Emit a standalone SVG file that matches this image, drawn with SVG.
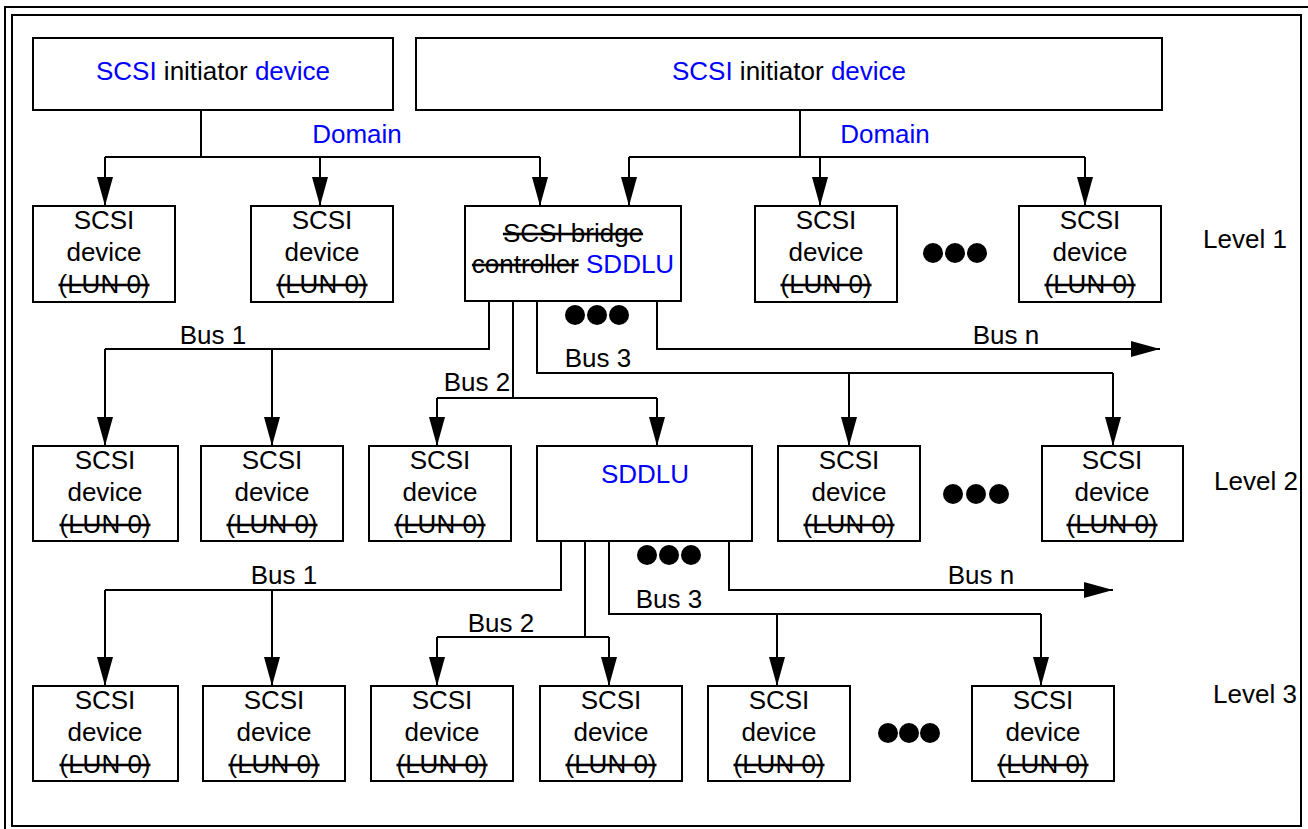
<svg xmlns="http://www.w3.org/2000/svg" width="1308" height="829" viewBox="0 0 1308 829">
<defs>
<marker id="arr" markerUnits="userSpaceOnUse" viewBox="0 0 29 16" refX="29" refY="8" markerWidth="29" markerHeight="16" orient="auto">
<path d="M0,0 L29,8 L0,16 z" fill="#000"/>
</marker>
<style>
.box{fill:#fff;stroke:#000;stroke-width:2}
.frame{fill:none;stroke:#000;stroke-width:2}
.t{font-family:"Liberation Sans",Arial,sans-serif;font-size:26px;fill:#000}
.c{text-anchor:middle}
.b{fill:#0000ff}
.s{text-decoration:line-through}
.ln{fill:none;stroke:#000;stroke-width:2}
.ar{fill:none;stroke:#000;stroke-width:2;marker-end:url(#arr)}
.dot{fill:#000}
</style>
</defs>
<rect x="0" y="0" width="1308" height="829" fill="#fff"/>
<rect class="frame" x="5" y="7" width="1320" height="840"/>
<rect class="frame" x="12" y="15" width="1289" height="811"/>

<g id="connectors">
<!-- Domain 1 -->
<path class="ln" d="M201,110 V157 M105,157 H540"/>
<path class="ar" d="M105,157 V206"/>
<path class="ar" d="M320,157 V206"/>
<path class="ar" d="M540,157 V206"/>
<!-- Domain 2 -->
<path class="ln" d="M800,110 V157 M629,157 H1085"/>
<path class="ar" d="M629,157 V206"/>
<path class="ar" d="M820,157 V206"/>
<path class="ar" d="M1085,157 V206"/>
<!-- Level1 buses -->
<path class="ln" d="M489,301 V349 H105"/>
<path class="ar" d="M105,349 V446"/>
<path class="ar" d="M272,349 V446"/>
<path class="ln" d="M513,301 V398 M437,398 H657"/>
<path class="ar" d="M437,398 V446"/>
<path class="ar" d="M657,398 V446"/>
<path class="ln" d="M537,301 V373 H1113"/>
<path class="ar" d="M849,373 V446"/>
<path class="ar" d="M1113,373 V446"/>
<path class="ar" d="M657,301 V349 H1160"/>
<!-- Level2 buses -->
<path class="ln" d="M561,541 V590 H105"/>
<path class="ar" d="M105,590 V686"/>
<path class="ar" d="M272,590 V686"/>
<path class="ln" d="M585,541 V637 M437,637 H609"/>
<path class="ar" d="M437,637 V686"/>
<path class="ar" d="M609,637 V686"/>
<path class="ln" d="M609,541 V614 H1041"/>
<path class="ar" d="M777,614 V686"/>
<path class="ar" d="M1041,614 V686"/>
<path class="ar" d="M729,541 V590 H1113"/>
</g>

<g id="initiator1"><rect class="box" x="33" y="38" width="360" height="72"/>
<text class="t c" x="213" y="80"><tspan class="b">SCSI</tspan> initiator <tspan class="b">device</tspan></text></g>
<g id="initiator2"><rect class="box" x="416" y="38" width="746" height="72"/>
<text class="t c" x="789" y="80"><tspan class="b">SCSI</tspan> initiator <tspan class="b">device</tspan></text></g>
<text class="t c b" x="357" y="143">Domain</text>
<text class="t c b" x="885" y="143">Domain</text>

<!-- Level 1 -->
<g id="l1d1"><rect class="box" x="33" y="206" width="142" height="96"/>
<text class="t c" x="104" y="229">SCSI</text><text class="t c" x="104" y="261">device</text><text class="t c s" x="104" y="293">(LUN 0)</text></g>
<g id="l1d2"><rect class="box" x="251" y="206" width="142" height="96"/>
<text class="t c" x="322" y="229">SCSI</text><text class="t c" x="322" y="261">device</text><text class="t c s" x="322" y="293">(LUN 0)</text></g>
<g id="l1bridge"><rect class="box" x="465" y="206" width="216" height="95"/>
<text class="t c s" x="573" y="242">SCSI bridge</text>
<text class="t c" x="573" y="273"><tspan class="s">controller</tspan> <tspan class="b">SDDLU</tspan></text></g>
<g id="l1d4"><rect class="box" x="755" y="206" width="142" height="96"/>
<text class="t c" x="826" y="229">SCSI</text><text class="t c" x="826" y="261">device</text><text class="t c s" x="826" y="293">(LUN 0)</text></g>
<g id="l1d5"><rect class="box" x="1019" y="206" width="142" height="96"/>
<text class="t c" x="1090" y="229">SCSI</text><text class="t c" x="1090" y="261">device</text><text class="t c s" x="1090" y="293">(LUN 0)</text></g>
<g id="dots1"><circle class="dot" cx="933" cy="253" r="10"/><circle class="dot" cx="955" cy="253" r="10"/><circle class="dot" cx="977" cy="253" r="10"/></g>
<g id="dots1b"><circle class="dot" cx="575" cy="315" r="10"/><circle class="dot" cx="597" cy="315" r="10"/><circle class="dot" cx="619" cy="315" r="10"/></g>
<text class="t" x="1203" y="248">Level 1</text>
<text class="t c" x="213" y="344">Bus 1</text>
<text class="t c" x="477" y="391">Bus 2</text>
<text class="t c" x="598" y="367">Bus 3</text>
<text class="t c" x="1006" y="344">Bus n</text>

<!-- Level 2 -->
<g id="l2d1"><rect class="box" x="33" y="446" width="145" height="95"/>
<text class="t c" x="105" y="469">SCSI</text><text class="t c" x="105" y="501">device</text><text class="t c s" x="105" y="533">(LUN 0)</text></g>
<g id="l2d2"><rect class="box" x="201" y="446" width="142" height="95"/>
<text class="t c" x="272" y="469">SCSI</text><text class="t c" x="272" y="501">device</text><text class="t c s" x="272" y="533">(LUN 0)</text></g>
<g id="l2d3"><rect class="box" x="369" y="446" width="142" height="95"/>
<text class="t c" x="440" y="469">SCSI</text><text class="t c" x="440" y="501">device</text><text class="t c s" x="440" y="533">(LUN 0)</text></g>
<g id="l2sddlu"><rect class="box" x="537" y="446" width="215" height="95"/>
<text class="t c b" x="645" y="483">SDDLU</text></g>
<g id="l2d5"><rect class="box" x="778" y="446" width="142" height="95"/>
<text class="t c" x="849" y="469">SCSI</text><text class="t c" x="849" y="501">device</text><text class="t c s" x="849" y="533">(LUN 0)</text></g>
<g id="l2d6"><rect class="box" x="1042" y="446" width="141" height="95"/>
<text class="t c" x="1112" y="469">SCSI</text><text class="t c" x="1112" y="501">device</text><text class="t c s" x="1112" y="533">(LUN 0)</text></g>
<g id="dots2"><circle class="dot" cx="953" cy="494" r="10"/><circle class="dot" cx="976" cy="494" r="10"/><circle class="dot" cx="999" cy="494" r="10"/></g>
<g id="dots2b"><circle class="dot" cx="647" cy="555" r="10"/><circle class="dot" cx="669" cy="555" r="10"/><circle class="dot" cx="691" cy="555" r="10"/></g>
<text class="t" x="1214" y="490">Level 2</text>
<text class="t c" x="284" y="584">Bus 1</text>
<text class="t c" x="501" y="632">Bus 2</text>
<text class="t c" x="669" y="608">Bus 3</text>
<text class="t c" x="981" y="584">Bus n</text>

<!-- Level 3 -->
<g id="l3d1"><rect class="box" x="33" y="686" width="145" height="95"/>
<text class="t c" x="105" y="709">SCSI</text><text class="t c" x="105" y="741">device</text><text class="t c s" x="105" y="773">(LUN 0)</text></g>
<g id="l3d2"><rect class="box" x="203" y="686" width="142" height="95"/>
<text class="t c" x="274" y="709">SCSI</text><text class="t c" x="274" y="741">device</text><text class="t c s" x="274" y="773">(LUN 0)</text></g>
<g id="l3d3"><rect class="box" x="371" y="686" width="142" height="95"/>
<text class="t c" x="442" y="709">SCSI</text><text class="t c" x="442" y="741">device</text><text class="t c s" x="442" y="773">(LUN 0)</text></g>
<g id="l3d4"><rect class="box" x="540" y="686" width="142" height="95"/>
<text class="t c" x="611" y="709">SCSI</text><text class="t c" x="611" y="741">device</text><text class="t c s" x="611" y="773">(LUN 0)</text></g>
<g id="l3d5"><rect class="box" x="708" y="686" width="142" height="95"/>
<text class="t c" x="779" y="709">SCSI</text><text class="t c" x="779" y="741">device</text><text class="t c s" x="779" y="773">(LUN 0)</text></g>
<g id="l3d6"><rect class="box" x="972" y="686" width="142" height="95"/>
<text class="t c" x="1043" y="709">SCSI</text><text class="t c" x="1043" y="741">device</text><text class="t c s" x="1043" y="773">(LUN 0)</text></g>
<g id="dots3"><circle class="dot" cx="888" cy="733" r="10"/><circle class="dot" cx="909" cy="733" r="10"/><circle class="dot" cx="930" cy="733" r="10"/></g>
<text class="t" x="1213" y="703">Level 3</text>
</svg>
